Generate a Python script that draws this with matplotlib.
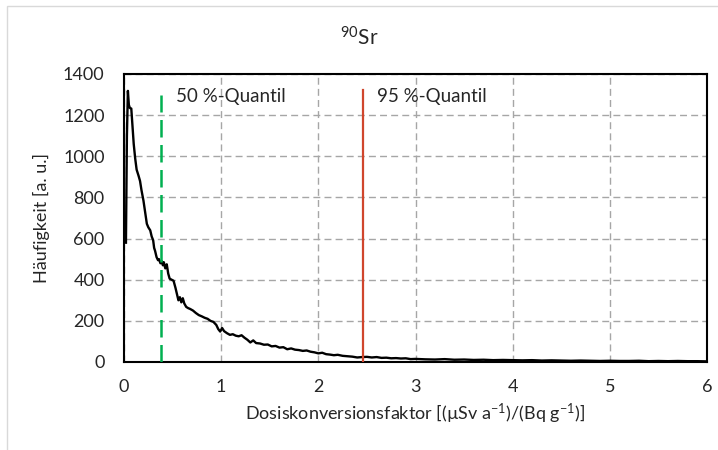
import matplotlib
matplotlib.use("Agg")
import matplotlib.pyplot as plt
from matplotlib.patches import Rectangle

plt.rcParams['font.family'] = ['Lato', 'DejaVu Sans']
plt.rcParams['mathtext.fontset'] = 'custom'
plt.rcParams['mathtext.rm'] = 'Lato'
plt.rcParams['mathtext.it'] = 'Lato:italic'
plt.rcParams['mathtext.bf'] = 'Lato:bold'

title = r'$^{90}$Sr'
xlabel = r'Dosiskonversionsfaktor [(µSv a$^{-1}$)/(Bq g$^{-1}$)]'
ylabel = 'Häufigkeit [a. u.]'

x_head = [0.02, 0.03, 0.04, 0.05, 0.06, 0.075, 0.09, 0.10, 0.115, 0.13, 0.15, 0.165, 0.18, 0.20,
          0.22, 0.235, 0.25, 0.27, 0.285, 0.30, 0.31, 0.32, 0.335, 0.35, 0.36, 0.375, 0.39, 0.40,
          0.41, 0.425, 0.44, 0.455, 0.47, 0.49, 0.51, 0.53, 0.545, 0.56, 0.575, 0.59, 0.605, 0.62,
          0.64, 0.66, 0.68, 0.71, 0.74, 0.77, 0.80, 0.83, 0.86, 0.89, 0.92, 0.95, 0.97, 0.99, 1.01,
          1.03, 1.06, 1.09, 1.12, 1.15, 1.18, 1.21, 1.24, 1.27, 1.30, 1.33, 1.36, 1.40, 1.44, 1.48,
          1.52, 1.56, 1.60, 1.64, 1.68, 1.72, 1.76, 1.80, 1.84, 1.88, 1.92, 1.96, 2.00, 2.04, 2.08,
          2.12, 2.16, 2.20, 2.25, 2.30, 2.35, 2.40, 2.45, 2.50, 2.55, 2.60, 2.65, 2.70, 2.75, 2.80,
          2.85, 2.90, 2.95]
y_head = [580, 1100, 1318, 1250, 1235, 1232, 1130, 1060, 990, 935, 905, 880, 835, 785,
          720, 672, 655, 640, 610, 592, 555, 540, 510, 495, 500, 480, 490, 470,
          485, 455, 475, 430, 405, 400, 395, 360, 330, 300, 315, 290, 310, 285,
          268, 262, 258, 250, 238, 228, 222, 215, 210, 200, 195, 180, 160, 148, 165,
          150, 140, 132, 135, 128, 125, 130, 118, 108, 95, 105, 92, 90, 84, 85,
          76, 78, 70, 72, 62, 66, 60, 58, 54, 56, 50, 47, 42, 45, 38,
          36, 33, 35, 30, 28, 26, 22, 24, 25, 22, 24, 20, 21, 18, 19,
          17, 18, 14]
x_tail = [3.0, 3.1, 3.2, 3.3, 3.4, 3.5, 3.6, 3.7, 3.8, 3.9, 4.0, 4.1, 4.2, 4.3, 4.4, 4.5,
          4.6, 4.7, 4.8, 4.9, 5.0, 5.1, 5.2, 5.3, 5.4, 5.5, 5.6, 5.7, 5.8, 5.9, 6.0]
y_tail = [15, 13, 12, 14, 11, 12, 10, 11, 9, 10, 9, 8, 9, 7, 8, 7,
          6, 7, 6, 5, 6, 5, 5, 6, 4, 5, 4, 5, 4, 4, 3]

q50 = 0.378
q95 = 2.456
q50_top = 1300
q95_top = 1320
q50_label = '50 %-Quantil'
q95_label = '95 %-Quantil'

xticks = [0, 1, 2, 3, 4, 5, 6]
yticks = [0, 200, 400, 600, 800, 1000, 1200, 1400]

fig = plt.figure(figsize=(7.18, 4.5), dpi=100)
fig.patches.append(Rectangle((7/718, -0.1), 1.2, (1 - 6/450) + 0.1, transform=fig.transFigure,
                             fill=False, edgecolor='#d9d9d9', linewidth=1.0))
ax = fig.add_axes([124/718, 1 - 362/450, 583/718, 288/450])

ax.plot(x_head + x_tail, y_head + y_tail, color='black', lw=1.7, zorder=3)
ax.plot([q50, q50], [0, q50_top], color='#00b050', lw=1.8, linestyle=(0, (7, 3)), zorder=4)
ax.plot([q95, q95], [0, q95_top], color='#d0462d', lw=1.6, zorder=4)

ax.text(0.535, 1290, q50_label, fontsize=13.5, va='center', ha='left', color='#262626')
ax.text(2.6, 1290, q95_label, fontsize=13.5, va='center', ha='left', color='#262626')

ax.set_xlim(0, 6)
ax.set_ylim(0, 1400)
ax.set_xticks(xticks)
ax.set_yticks(yticks)
ax.tick_params(axis='both', length=0, labelsize=13, colors='#262626')
ax.tick_params(axis='x', pad=12)
ax.tick_params(axis='y', pad=14)
ax.grid(True, color='#a6a6a6', linestyle=(0, (5, 3)), lw=1.0, zorder=0)
for s in ax.spines.values():
    s.set_color('black')
    s.set_linewidth(1.5)

ax.set_xlabel(xlabel, fontsize=13, color='#262626', labelpad=5)
ax.set_ylabel(ylabel, fontsize=13, color='#262626', labelpad=9)
fig.text(359/718, 1 - 38/450, title, fontsize=15, ha='center', va='center', color='#262626')

fig.savefig('out.png', dpi=100)
